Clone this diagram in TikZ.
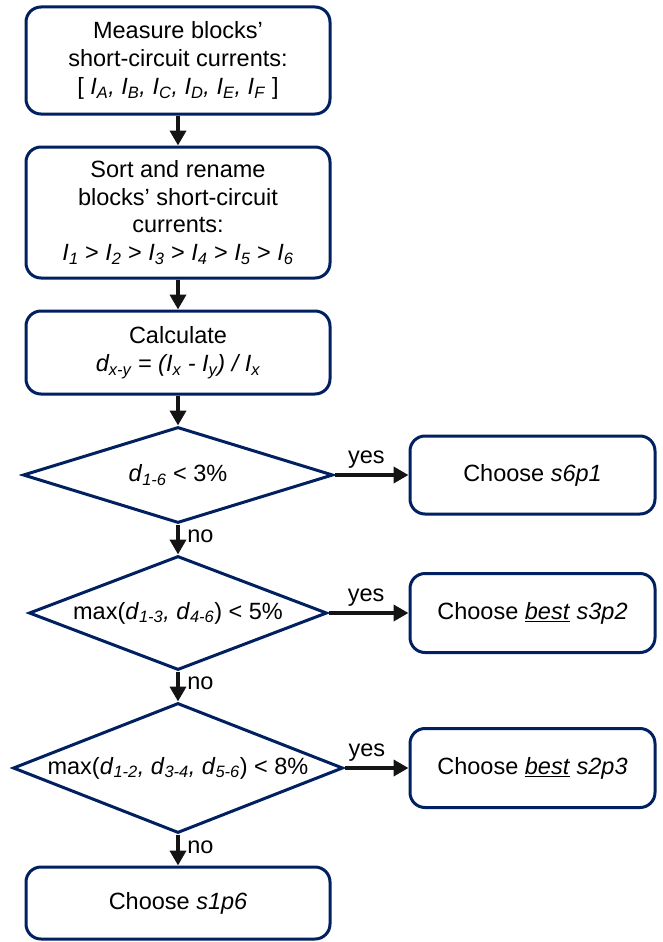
\documentclass[tikz,border=0pt]{standalone}
\usepackage{fontspec}
\setmainfont{Liberation Sans}
\usetikzlibrary{shapes.geometric,arrows.meta}
\definecolor{navy}{RGB}{0,32,96}
\newcommand{\vsub}[2]{\textit{#1}\textsubscript{\textit{#2}}}
\begin{document}
\begin{tikzpicture}[x=1pt,y=-1pt,
  txt/.style={font=\fontsize{23.5}{28}\selectfont},
  box/.style={txt, draw=navy, line width=3pt, rounded corners=15pt, align=center, inner sep=0pt, fill=white},
  dia/.style={draw=navy, line width=3pt, diamond, inner sep=0pt, fill=white},
  arr/.style={line width=4.5pt, draw=black!92, -{Triangle[length=15pt,width=16pt]}},
  lbl/.style={txt, inner sep=1pt}]
\useasboundingbox[fill=white] (0,0) rectangle (663,942);

\node[box, minimum width=304pt, minimum height=107pt] (b1) at (178,60.5)
  {Measure blocks’\\short-circuit currents:\\{[} \vsub{I}{A}\textit{,} \vsub{I}{B}\textit{,} \vsub{I}{C}\textit{,} \vsub{I}{D}\textit{,} \vsub{I}{E}\textit{,} \vsub{I}{F} ]};
\node[box, minimum width=304pt, minimum height=131pt, font=\fontsize{23.5}{27.5}\selectfont] (b2) at (178,212.5)
  {Sort and rename\\blocks’ short-circuit\\currents:\\\vsub{I}{1} > \vsub{I}{2} > \vsub{I}{3} > \vsub{I}{4} > \vsub{I}{5} > \vsub{I}{6}};
\node[box, minimum width=304pt, minimum height=83pt] (b3) at (178,352.5)
  {Calculate\\\textit{d\textsubscript{x-y} = (I\textsubscript{x} - I\textsubscript{y}) / I\textsubscript{x}}};

\node[dia, minimum width=310pt, minimum height=96pt,
  label={[lbl]center:{\vsub{d}{1-6} < 3\%}}] (d1) at (178,475) {};
\node[dia, minimum width=298pt, minimum height=114pt,
  label={[lbl]center:{max(\vsub{d}{1-3}\textit{,} \vsub{d}{4-6}) < 5\%}}] (d2) at (178,613) {};
\node[dia, minimum width=330pt, minimum height=130pt,
  label={[lbl]center:{max(\vsub{d}{1-2}\textit{,} \vsub{d}{3-4}\textit{,} \vsub{d}{5-6}) < 8\%}}] (d3) at (178,768) {};

\node[box, minimum width=245pt, minimum height=78pt] (r1) at (532.5,475) {Choose \textit{s6p1}};
\node[box, minimum width=245pt, minimum height=79pt] (r2) at (532.5,613) {Choose \underline{\textit{best}} \textit{s3p2}};
\node[box, minimum width=245pt, minimum height=79pt] (r3) at (532.5,768) {Choose \underline{\textit{best}} \textit{s2p3}};
\node[box, minimum width=304pt, minimum height=72pt] (b4) at (178,903) {Choose \textit{s1p6}};

\draw[arr] (b1.south) -- (b2.north);
\draw[arr] (b2.south) -- (b3.north);
\draw[arr] (b3.south) -- (d1.north);
\draw[arr] (d1.south) -- node[lbl, right=6pt, pos=0.4] (n1) {no} (d2.north);
\draw[arr] (d2.south) -- node[lbl, right=6pt, pos=0.4] (n2) {no} (d3.north);
\draw[arr] (d3.south) -- node[lbl, right=6pt, pos=0.4] (n3) {no} (b4.north);
\draw[arr] (d1.east) -- node[lbl, above=3pt, pos=0.43] (y1) {yes} (r1.west);
\draw[arr] (d2.east) -- node[lbl, above=3pt, pos=0.47] (y2) {yes} (r2.west);
\draw[arr] (d3.east) -- node[lbl, above=3pt, pos=0.35] (y3) {yes} (r3.west);
\end{tikzpicture}
\end{document}
